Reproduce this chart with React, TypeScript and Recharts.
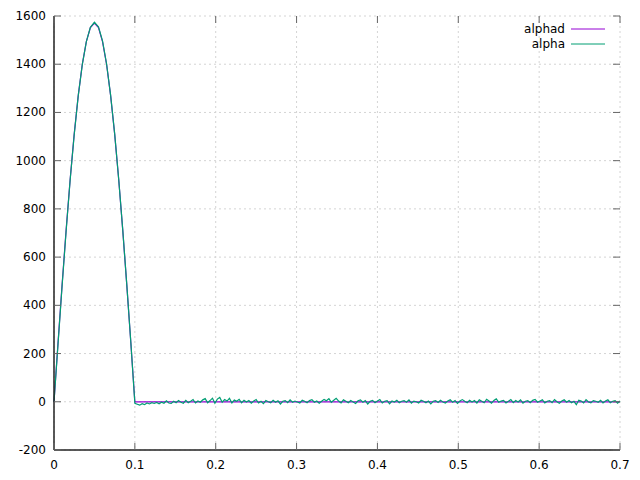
import {
  LineChart,
  Line,
  XAxis,
  YAxis,
  CartesianGrid,
} from 'recharts';

// pulse part, sampled every 0.005 from 0 to 0.1
const pulseTimes = [
  0, 0.005, 0.01, 0.015, 0.02, 0.025, 0.03, 0.035, 0.04, 0.045, 0.05,
  0.055, 0.06, 0.065, 0.07, 0.075, 0.08, 0.085, 0.09, 0.095, 0.1,
];
const alphadPulse = [
  0, 246, 485, 713, 923, 1111, 1271, 1400, 1494, 1552, 1571,
  1552, 1494, 1400, 1271, 1111, 923, 713, 485, 246, 0,
];
const alphaPulse = [
  0, 240, 480, 708, 921, 1108, 1270, 1398, 1494, 1553, 1574,
  1555, 1497, 1402, 1272, 1113, 924, 714, 487, 248, -6,
];

// after the pulse: alphad stays at 0, alpha is noise around 0
const tailStart = 0.103;
const tailStep = 0.003;
const alphaTail = [
  -10, -14, -8, -12, -5, -9, -4, -7, -3, -8,
  -2, -6, 4, -5, -7, 2, -4, 5, -2, -6,
  6, -4, 2, 9, -5, 3, -2, 8, 13, -4,
  5, 15, -6, 11, 18, -2, 9, 3, 14, -5,
  7, 2, 10, -4, 6, -1, 5, -6, 3, 9,
  -5, 2, -8, 5, 0, -4, 6, -2, 4, -9,
  2, 5, -4, 8, -2, 3, -1, -5, 6, 2,
  -4, 5, 9, -2, 3, -6, 2, 10, 4, 13,
  -2, 6, 14, 3, -5, 8, 2, -4, 5, -1,
  -7, 4, 8, -2, 5, -9, 2, 6, -4, 3,
  9, -5, 2, 5, -8, 3, -1, 6, -4, 2,
  5, -2, 8, -6, 3, 0, -5, 6, 2, -4,
  3, -9, 2, 5, -3, 6, -1, -5, 3, 8,
  -2, 5, -7, 3, 9, 2, -4, 6, -1, 5,
  -5, 8, 2, -4, 10, 3, -6, 5, 12, -2,
  3, 6, -5, 2, 9, -4, 5, -1, 8, -6,
  2, 5, -4, 6, 10, -2, 3, 8, -5, 2,
  5, -4, 9, 0, -6, 3, 8, -2, 5, -4,
  2, -12, 6, 3, -5, 9, -1, -4, 5, 2,
  -2, 6, -5, 3, 8, -4, 2, 5, -6, 3,
];

const xTicks = [0, 0.1, 0.2, 0.3, 0.4, 0.5, 0.6, 0.7];
const yTicks = [-200, 0, 200, 400, 600, 800, 1000, 1200, 1400, 1600];

const data = [
  ...pulseTimes.map((t, i) => ({ t, alphad: alphadPulse[i], alpha: alphaPulse[i] })),
  ...alphaTail.map((v, i) => ({
    t: Math.round((tailStart + i * tailStep) * 1000) / 1000,
    alphad: 0,
    alpha: v,
  })),
];

const FONT = '"DejaVu Sans", sans-serif';
const LEFT = 54;
const RIGHT = 620;
const TOP = 16;
const BOTTOM = 450;
const TICK = 7;

const PURPLE = '#9400d3';
const GREEN = '#009e73';
const FRAME = '#222';

const XTick = (props: any) => {
  const { x, payload } = props;
  return (
    <g>
      <line x1={x} x2={x} y1={BOTTOM} y2={BOTTOM - TICK} stroke="#666" />
      <line x1={x} x2={x} y1={TOP} y2={TOP + TICK} stroke="#666" />
      <text x={x} y={BOTTOM + 19} textAnchor="middle" fontSize={12} fontFamily={FONT} fill="#000">
        {String(payload.value)}
      </text>
    </g>
  );
};

const YTick = (props: any) => {
  const { y, payload } = props;
  return (
    <g>
      <line x1={LEFT} x2={LEFT + TICK} y1={y} y2={y} stroke="#666" />
      <line x1={RIGHT} x2={RIGHT - TICK} y1={y} y2={y} stroke="#666" />
      <text x={LEFT - 8} y={y + 4} textAnchor="end" fontSize={12} fontFamily={FONT} fill="#000">
        {String(payload.value)}
      </text>
    </g>
  );
};

const LegendBox = () => (
  <svg
    width={120}
    height={34}
    style={{ position: 'absolute', left: 486, top: 20, display: 'block' }}
  >
    <text x={79} y={13} textAnchor="end" fontSize={12} fontFamily={FONT} fill="#000">alphad</text>
    <line x1={85} x2={119} y1={9} y2={9} stroke={PURPLE} />
    <text x={79} y={28} textAnchor="end" fontSize={12} fontFamily={FONT} fill="#000">alpha</text>
    <line x1={85} x2={119} y1={24} y2={24} stroke={GREEN} />
  </svg>
);

export default function App() {
  return (
    <div style={{ position: 'absolute', left: 0, top: 0, width: 640, height: 480, background: '#fff' }}>
      <LineChart
        width={640}
        height={480}
        data={data}
        margin={{ top: TOP, right: 640 - RIGHT, left: 0, bottom: 0 }}
      >
        <CartesianGrid stroke="#d4d4d4" strokeDasharray="2 3" />
        <XAxis
          dataKey="t"
          type="number"
          domain={[0, 0.7]}
          ticks={xTicks}
          height={480 - BOTTOM}
          axisLine={{ stroke: FRAME, strokeWidth: 1.5 }}
          tickLine={false}
          tick={XTick}
          interval={0}
        />
        <XAxis
          xAxisId="top"
          orientation="top"
          dataKey="t"
          type="number"
          domain={[0, 0.7]}
          height={0}
          axisLine={{ stroke: FRAME, strokeWidth: 1.5 }}
          tickLine={false}
          tick={false}
        />
        <YAxis
          type="number"
          domain={[-200, 1600]}
          ticks={yTicks}
          width={LEFT}
          axisLine={{ stroke: FRAME, strokeWidth: 1.5 }}
          tickLine={false}
          tick={YTick}
          interval={0}
        />
        <YAxis
          yAxisId="right"
          orientation="right"
          type="number"
          domain={[-200, 1600]}
          width={0}
          axisLine={{ stroke: FRAME, strokeWidth: 1.5 }}
          tickLine={false}
          tick={false}
        />
        <Line
          type="linear"
          dataKey="alphad"
          stroke={PURPLE}
          strokeWidth={1.2}
          dot={false}
          isAnimationActive={false}
        />
        <Line
          type="linear"
          dataKey="alpha"
          stroke={GREEN}
          strokeWidth={1.2}
          dot={false}
          isAnimationActive={false}
        />
      </LineChart>
      <LegendBox />
    </div>
  );
}
